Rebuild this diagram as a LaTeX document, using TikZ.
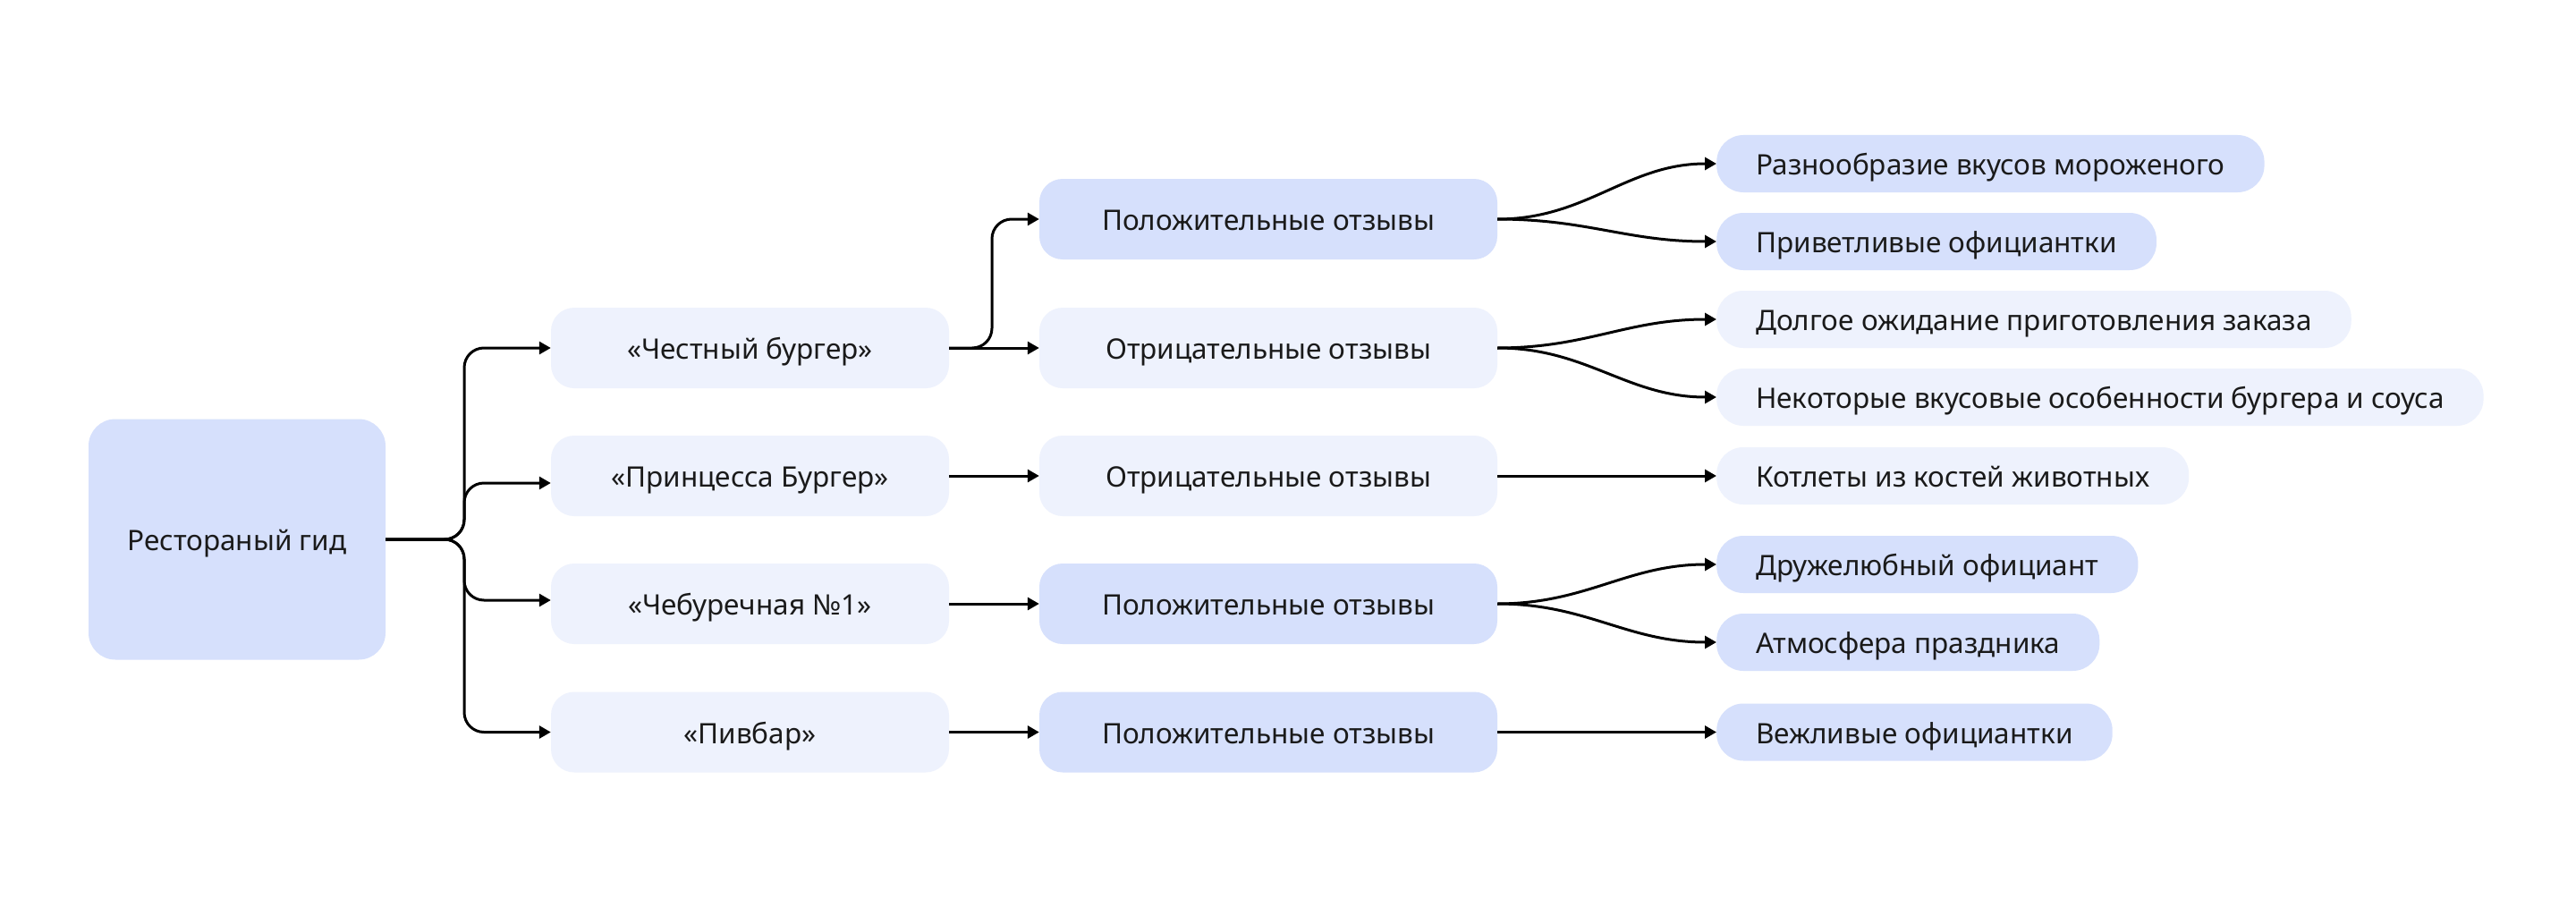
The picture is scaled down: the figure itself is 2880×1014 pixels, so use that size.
\documentclass[tikz,border=0pt]{standalone}
\usepackage{fontspec}
\setmainfont{Noto Sans}
\usetikzlibrary{arrows.meta}
\definecolor{dk}{HTML}{D6E0FC}
\definecolor{lt}{HTML}{EEF2FD}
\definecolor{ink}{HTML}{1A1A1A}
\begin{document}
\begin{tikzpicture}[x=1pt,y=-1pt,
  box/.style={rounded corners=26pt, inner sep=0pt, font=\fontsize{31.5}{38}\selectfont, text=ink, text height=25pt, text depth=0pt},
  mainbox/.style={box, minimum width=332pt, minimum height=269pt, fill=dk, rounded corners=30pt},
  lonebox/.style={box, minimum width=445pt, minimum height=90pt, fill=lt},
  ltwobox/.style={box, minimum width=512pt, minimum height=90pt},
  lthrbox/.style={box, anchor=west, minimum height=64pt, inner xsep=44pt, rounded corners=30pt},
  conn/.style={line width=3pt, -{Triangle[length=13pt,width=14pt]}},
]
\useasboundingbox[fill=white] (0,0) rectangle (2880,1014);

\node[mainbox] (root) at (265,603) {Рестораный гид};

\node[lonebox] (c1) at (838.5,389) {«Честный бургер»};
\node[lonebox] (c2) at (838.5,532) {«Принцесса Бургер»};
\node[lonebox] (c3) at (838.5,675) {«Чебуречная №1»};
\node[lonebox] (c4) at (838.5,818.5) {«Пивбар»};

\node[ltwobox, fill=dk] (p1) at (1418,245) {Положительные отзывы};
\node[ltwobox, fill=lt] (n1) at (1418,389) {Отрицательные отзывы};
\node[ltwobox, fill=lt] (n2) at (1418,532) {Отрицательные отзывы};
\node[ltwobox, fill=dk] (p3) at (1418,675) {Положительные отзывы};
\node[ltwobox, fill=dk] (p4) at (1418,818.5) {Положительные отзывы};

\node[lthrbox, fill=dk] (r1) at (1919,183) {Разнообразие вкусов мороженого};
\node[lthrbox, fill=dk] (r2) at (1919,270) {Приветливые официантки};
\node[lthrbox, fill=lt] (r3) at (1919,357) {Долгое ожидание приготовления заказа};
\node[lthrbox, fill=lt] (r4) at (1919,444) {Некоторые вкусовые особенности бургера и соуса};
\node[lthrbox, fill=lt] (r5) at (1919,532) {Котлеты из костей животных};
\node[lthrbox, fill=dk] (r6) at (1919,631) {Дружелюбный официант};
\node[lthrbox, fill=dk] (r7) at (1919,718) {Атмосфера праздника};
\node[lthrbox, fill=dk] (r8) at (1919,818.5) {Вежливые официантки};

\coordinate (j) at (519,603);
\coordinate (j2) at (1109,389);

\draw[conn, rounded corners=22pt] (root.east) -- (j) |- (c1.west);
\draw[conn, rounded corners=22pt] (root.east) -- (j) |- ([yshift=-8pt]c2.west);
\draw[conn, rounded corners=22pt] (root.east) -- (j) |- ([yshift=4pt]c3.west);
\draw[conn, rounded corners=22pt] (root.east) -- (j) |- (c4.west);

\draw[conn, rounded corners=22pt] (c1.east) -- (j2) |- (p1.west);
\draw[conn] (c1.east) -- (n1.west);
\draw[conn] (c2.east) -- (n2.west);
\draw[conn] (c3.east) -- (p3.west);
\draw[conn] (c4.east) -- (p4.west);

\draw[conn] (p1.east) .. controls +(100,0) and +(-100,0) .. (r1.west);
\draw[conn] (p1.east) .. controls +(100,0) and +(-100,0) .. (r2.west);
\draw[conn] (n1.east) .. controls +(100,0) and +(-100,0) .. (r3.west);
\draw[conn] (n1.east) .. controls +(100,0) and +(-100,0) .. (r4.west);
\draw[conn] (n2.east) -- (r5.west);
\draw[conn] (p3.east) .. controls +(100,0) and +(-100,0) .. (r6.west);
\draw[conn] (p3.east) .. controls +(100,0) and +(-100,0) .. (r7.west);
\draw[conn] (p4.east) -- (r8.west);
\end{tikzpicture}
\end{document}
